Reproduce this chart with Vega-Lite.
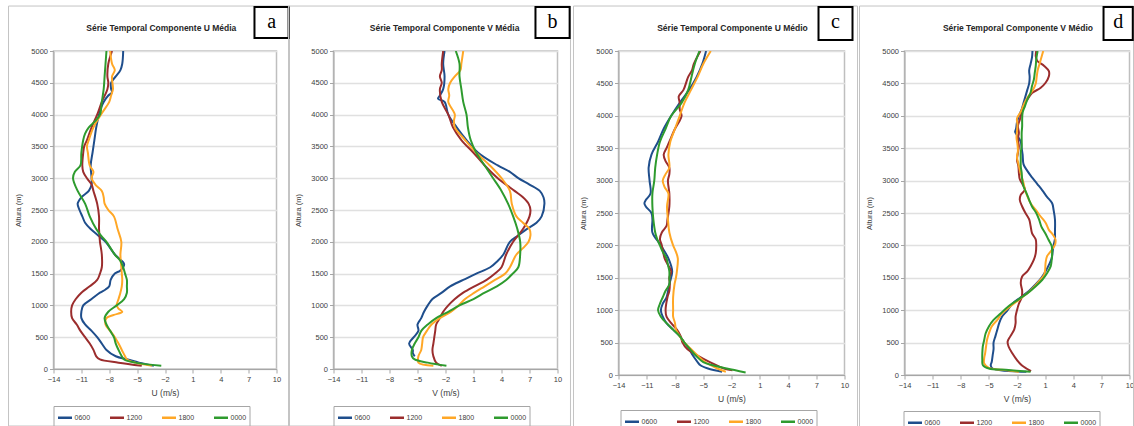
{
"$schema": "https://vega.github.io/schema/vega-lite/v6.json",
"background": "white",
"padding": {"left": 6.5, "top": 4, "right": 0, "bottom": 0},
"spacing": -5,
"config": {
  "font": "Liberation Sans",
  "view": {"stroke": "#bfbfbf", "strokeWidth": 1.5},
  "axis": {"labelFont": "Liberation Sans", "labelFontSize": 7.5, "labelColor": "#404040", "titleFont": "Liberation Sans", "titleFontSize": 8, "titleFontWeight": "normal", "titleColor": "#404040", "domainColor": "#a6a6a6", "tickColor": "#a6a6a6", "tickSize": 4, "labelPadding": 2},
  "legend": {"orient": "none", "direction": "horizontal", "title": null, "symbolType": "stroke", "symbolSize": 196, "symbolStrokeWidth": 2.5, "labelFont": "Liberation Sans", "labelFontSize": 7, "labelColor": "#404040", "labelOffset": 1, "columnPadding": 14, "padding": 3, "strokeColor": "#a6a6a6"}
},
"resolve": {"scale": {"color": "independent"}, "legend": {"color": "independent"}},
"hconcat": [
{
 "width": 223, "height": 318,
 "layer": [
  {"data": {"values": [{}]}, "mark": {"type": "rect", "filled": false, "stroke": "#c4c4c4", "strokeWidth": 1, "clip": false},
   "encoding": {"x": {"datum": -18.84, "type": "quantitative"}, "x2": {"datum": 11.4}, "y": {"datum": 5707, "type": "quantitative"}, "y2": {"datum": -896}}},
  {"data": {"values": [
{"s":"0600","h":50,"v":-3.2},{"s":"0600","h":100,"v":-4.8},{"s":"0600","h":150,"v":-6.0},{"s":"0600","h":200,"v":-7.3},{"s":"0600","h":300,"v":-8.3},{"s":"0600","h":400,"v":-8.8},{"s":"0600","h":500,"v":-9.3},{"s":"0600","h":600,"v":-9.9},{"s":"0600","h":700,"v":-10.6},{"s":"0600","h":800,"v":-11.0},{"s":"0600","h":900,"v":-11.0},{"s":"0600","h":1000,"v":-10.8},{"s":"0600","h":1100,"v":-9.9},{"s":"0600","h":1200,"v":-9.0},{"s":"0600","h":1250,"v":-8.4},{"s":"0600","h":1300,"v":-8.0},{"s":"0600","h":1400,"v":-7.85},{"s":"0600","h":1500,"v":-7.4},{"s":"0600","h":1550,"v":-6.8},{"s":"0600","h":1650,"v":-6.4},{"s":"0600","h":1800,"v":-7.4},{"s":"0600","h":2000,"v":-8.4},{"s":"0600","h":2100,"v":-9.2},{"s":"0600","h":2200,"v":-10.0},{"s":"0600","h":2300,"v":-10.6},{"s":"0600","h":2400,"v":-10.9},{"s":"0600","h":2500,"v":-11.2},{"s":"0600","h":2600,"v":-11.4},{"s":"0600","h":2700,"v":-11.0},{"s":"0600","h":2800,"v":-10.2},{"s":"0600","h":2900,"v":-9.9},{"s":"0600","h":3000,"v":-9.9},{"s":"0600","h":3200,"v":-10.0},{"s":"0600","h":3400,"v":-9.8},{"s":"0600","h":3600,"v":-9.6},{"s":"0600","h":3800,"v":-9.4},{"s":"0600","h":4000,"v":-9.1},{"s":"0600","h":4100,"v":-8.9},{"s":"0600","h":4200,"v":-8.6},{"s":"0600","h":4300,"v":-8.1},{"s":"0600","h":4350,"v":-7.7},{"s":"0600","h":4400,"v":-7.8},{"s":"0600","h":4500,"v":-7.8},{"s":"0600","h":4600,"v":-7.3},{"s":"0600","h":4700,"v":-6.8},{"s":"0600","h":4800,"v":-6.6},{"s":"0600","h":5000,"v":-6.5},
{"s":"1200","h":50,"v":-4.5},{"s":"1200","h":100,"v":-7.0},{"s":"1200","h":150,"v":-9.0},{"s":"1200","h":200,"v":-9.4},{"s":"1200","h":300,"v":-9.7},{"s":"1200","h":400,"v":-10.1},{"s":"1200","h":500,"v":-10.6},{"s":"1200","h":600,"v":-11.1},{"s":"1200","h":700,"v":-11.5},{"s":"1200","h":800,"v":-12.0},{"s":"1200","h":900,"v":-12.1},{"s":"1200","h":1000,"v":-12.0},{"s":"1200","h":1100,"v":-11.6},{"s":"1200","h":1200,"v":-11.0},{"s":"1200","h":1300,"v":-10.1},{"s":"1200","h":1400,"v":-9.3},{"s":"1200","h":1500,"v":-9.0},{"s":"1200","h":1600,"v":-8.8},{"s":"1200","h":1800,"v":-8.8},{"s":"1200","h":2000,"v":-9.0},{"s":"1200","h":2200,"v":-9.1},{"s":"1200","h":2400,"v":-9.1},{"s":"1200","h":2600,"v":-9.3},{"s":"1200","h":2800,"v":-9.7},{"s":"1200","h":2900,"v":-9.9},{"s":"1200","h":3000,"v":-10.4},{"s":"1200","h":3100,"v":-10.8},{"s":"1200","h":3200,"v":-10.9},{"s":"1200","h":3400,"v":-10.8},{"s":"1200","h":3500,"v":-10.7},{"s":"1200","h":3600,"v":-10.4},{"s":"1200","h":3800,"v":-9.9},{"s":"1200","h":4000,"v":-9.3},{"s":"1200","h":4200,"v":-8.8},{"s":"1200","h":4400,"v":-8.2},{"s":"1200","h":4500,"v":-8.1},{"s":"1200","h":4600,"v":-8.2},{"s":"1200","h":4800,"v":-8.1},{"s":"1200","h":5000,"v":-7.7},
{"s":"1800","h":50,"v":-3.4},{"s":"1800","h":100,"v":-5.2},{"s":"1800","h":150,"v":-6.1},{"s":"1800","h":200,"v":-6.3},{"s":"1800","h":300,"v":-6.65},{"s":"1800","h":400,"v":-7.0},{"s":"1800","h":500,"v":-7.4},{"s":"1800","h":600,"v":-7.9},{"s":"1800","h":700,"v":-8.4},{"s":"1800","h":800,"v":-8.3},{"s":"1800","h":850,"v":-7.5},{"s":"1800","h":900,"v":-6.6},{"s":"1800","h":950,"v":-7.0},{"s":"1800","h":1000,"v":-7.2},{"s":"1800","h":1100,"v":-7.0},{"s":"1800","h":1200,"v":-6.8},{"s":"1800","h":1300,"v":-6.65},{"s":"1800","h":1400,"v":-6.6},{"s":"1800","h":1500,"v":-6.65},{"s":"1800","h":1600,"v":-6.7},{"s":"1800","h":1800,"v":-6.8},{"s":"1800","h":2000,"v":-6.7},{"s":"1800","h":2200,"v":-7.1},{"s":"1800","h":2400,"v":-7.5},{"s":"1800","h":2500,"v":-8.1},{"s":"1800","h":2600,"v":-8.5},{"s":"1800","h":2700,"v":-8.6},{"s":"1800","h":2800,"v":-8.8},{"s":"1800","h":2900,"v":-9.5},{"s":"1800","h":3000,"v":-9.9},{"s":"1800","h":3100,"v":-9.7},{"s":"1800","h":3200,"v":-10.1},{"s":"1800","h":3400,"v":-10.3},{"s":"1800","h":3500,"v":-10.4},{"s":"1800","h":3600,"v":-10.2},{"s":"1800","h":3800,"v":-9.7},{"s":"1800","h":4000,"v":-8.9},{"s":"1800","h":4200,"v":-8.0},{"s":"1800","h":4300,"v":-7.8},{"s":"1800","h":4400,"v":-7.6},{"s":"1800","h":4600,"v":-7.7},{"s":"1800","h":4700,"v":-7.4},{"s":"1800","h":4800,"v":-7.7},{"s":"1800","h":5000,"v":-7.9},
{"s":"0000","h":50,"v":-2.4},{"s":"0000","h":100,"v":-5.2},{"s":"0000","h":150,"v":-6.4},{"s":"0000","h":200,"v":-6.65},{"s":"0000","h":300,"v":-7.0},{"s":"0000","h":400,"v":-7.3},{"s":"0000","h":500,"v":-7.5},{"s":"0000","h":600,"v":-7.9},{"s":"0000","h":700,"v":-8.3},{"s":"0000","h":800,"v":-8.5},{"s":"0000","h":900,"v":-8.1},{"s":"0000","h":1000,"v":-7.2},{"s":"0000","h":1100,"v":-6.4},{"s":"0000","h":1200,"v":-6.1},{"s":"0000","h":1300,"v":-6.1},{"s":"0000","h":1400,"v":-6.1},{"s":"0000","h":1500,"v":-6.3},{"s":"0000","h":1600,"v":-6.5},{"s":"0000","h":1700,"v":-6.8},{"s":"0000","h":1800,"v":-7.4},{"s":"0000","h":2000,"v":-8.3},{"s":"0000","h":2100,"v":-8.9},{"s":"0000","h":2200,"v":-9.4},{"s":"0000","h":2400,"v":-10.1},{"s":"0000","h":2600,"v":-10.6},{"s":"0000","h":2800,"v":-11.4},{"s":"0000","h":3000,"v":-11.9},{"s":"0000","h":3100,"v":-11.7},{"s":"0000","h":3200,"v":-11.1},{"s":"0000","h":3400,"v":-11.0},{"s":"0000","h":3600,"v":-10.8},{"s":"0000","h":3700,"v":-10.6},{"s":"0000","h":3800,"v":-10.2},{"s":"0000","h":3900,"v":-9.5},{"s":"0000","h":4000,"v":-9.0},{"s":"0000","h":4200,"v":-8.8},{"s":"0000","h":4400,"v":-8.6},{"s":"0000","h":4600,"v":-8.5},{"s":"0000","h":4800,"v":-8.4},{"s":"0000","h":5000,"v":-8.3}
  ]},
   "mark": {"type": "line", "strokeWidth": 2, "interpolate": "catmull-rom", "clip": true},
   "encoding": {
    "x": {"field": "v", "type": "quantitative", "scale": {"domain": [-14, 10], "nice": false, "zero": false}, "axis": {"values": [-14,-11,-8,-5,-2,1,4,7,10], "tickCount": 30, "labelOverlap": false, "labelFlush": false, "title": "U (m/s)", "grid": false, "titlePadding": 6, "titleFontSize": 8.5}},
    "y": {"field": "h", "type": "quantitative", "scale": {"domain": [0, 5000], "nice": false, "zero": false}, "axis": {"values": [0,500,1000,1500,2000,2500,3000,3500,4000,4500,5000], "tickCount": 30, "labelOverlap": false, "format": "d", "title": "Altura (m)", "grid": true, "gridColor": "#e0e0e0", "gridWidth": 1.5, "titlePadding": 8, "titleFontSize": 7.5}},
    "color": {"field": "s", "type": "nominal", "scale": {"domain": ["0600","1200","1800","0000"], "range": ["#1F4E8C","#9B2D2D","#FFA726","#2E9B2E"]}, "legend": {"legendX": 0, "legendY": 355}},
    "order": {"field": "h", "type": "quantitative"}
   }},
  {"data": {"values": [{}]}, "mark": {"type": "text", "text": "Série Temporal Componente U Média", "font": "Liberation Sans", "fontSize": 8.5, "fontWeight": "bold", "color": "#262626", "align": "center", "baseline": "middle", "clip": false},
   "encoding": {"x": {"datum": -2.4, "type": "quantitative"}, "y": {"datum": 5362, "type": "quantitative"}}},
  {"data": {"values": [{}]}, "mark": {"type": "rect", "fill": "white", "stroke": "black", "strokeWidth": 2, "opacity": 1, "clip": false},
   "encoding": {"x": {"datum": 7.63, "type": "quantitative"}, "x2": {"datum": 11.3}, "y": {"datum": 5690, "type": "quantitative"}, "y2": {"datum": 5204}}},
  {"data": {"values": [{}]}, "mark": {"type": "text", "text": "a", "font": "Liberation Serif", "fontSize": 20, "color": "black", "align": "center", "baseline": "middle", "dy": -1, "clip": false},
   "encoding": {"x": {"datum": 9.47, "type": "quantitative"}, "y": {"datum": 5447, "type": "quantitative"}}}
 ]
},
{
 "spacing": -1,
 "resolve": {"scale": {"color": "independent"}, "legend": {"color": "independent"}},
 "hconcat": [
{
 "width": 224, "height": 318,
 "layer": [
  {"data": {"values": [{}]}, "mark": {"type": "rect", "filled": false, "stroke": "#c4c4c4", "strokeWidth": 1, "clip": false},
   "encoding": {"x": {"datum": -18.82, "type": "quantitative"}, "x2": {"datum": 11.39}, "y": {"datum": 5707, "type": "quantitative"}, "y2": {"datum": -896}}},
  {"data": {"values": [
{"s":"0600","h":200,"v":-5.3},{"s":"0600","h":250,"v":-5.5},{"s":"0600","h":300,"v":-5.5},{"s":"0600","h":400,"v":-5.9},{"s":"0600","h":500,"v":-5.4},{"s":"0600","h":600,"v":-4.9},{"s":"0600","h":700,"v":-5.0},{"s":"0600","h":800,"v":-4.6},{"s":"0600","h":900,"v":-4.3},{"s":"0600","h":1000,"v":-3.9},{"s":"0600","h":1100,"v":-3.4},{"s":"0600","h":1200,"v":-2.4},{"s":"0600","h":1300,"v":-1.5},{"s":"0600","h":1400,"v":-0.1},{"s":"0600","h":1500,"v":1.3},{"s":"0600","h":1600,"v":2.8},{"s":"0600","h":1700,"v":3.6},{"s":"0600","h":1800,"v":4.2},{"s":"0600","h":2000,"v":4.9},{"s":"0600","h":2100,"v":5.8},{"s":"0600","h":2200,"v":6.7},{"s":"0600","h":2300,"v":7.75},{"s":"0600","h":2400,"v":8.3},{"s":"0600","h":2600,"v":8.6},{"s":"0600","h":2700,"v":8.5},{"s":"0600","h":2800,"v":8.1},{"s":"0600","h":2900,"v":7.0},{"s":"0600","h":3000,"v":5.8},{"s":"0600","h":3100,"v":4.9},{"s":"0600","h":3200,"v":3.6},{"s":"0600","h":3400,"v":1.5},{"s":"0600","h":3600,"v":0.25},{"s":"0600","h":3800,"v":-0.8},{"s":"0600","h":4000,"v":-1.7},{"s":"0600","h":4200,"v":-2.1},{"s":"0600","h":4250,"v":-2.8},{"s":"0600","h":4300,"v":-2.6},{"s":"0600","h":4400,"v":-2.25},{"s":"0600","h":4600,"v":-2.1},{"s":"0600","h":4800,"v":-2.25},{"s":"0600","h":5000,"v":-2.1},
{"s":"1200","h":50,"v":-2.4},{"s":"1200","h":100,"v":-3.0},{"s":"1200","h":200,"v":-3.3},{"s":"1200","h":300,"v":-3.4},{"s":"1200","h":400,"v":-3.3},{"s":"1200","h":500,"v":-3.2},{"s":"1200","h":600,"v":-3.1},{"s":"1200","h":700,"v":-3.0},{"s":"1200","h":800,"v":-2.6},{"s":"1200","h":900,"v":-2.25},{"s":"1200","h":1000,"v":-1.7},{"s":"1200","h":1100,"v":-1.0},{"s":"1200","h":1200,"v":-0.1},{"s":"1200","h":1300,"v":1.1},{"s":"1200","h":1400,"v":2.4},{"s":"1200","h":1500,"v":3.3},{"s":"1200","h":1600,"v":4.0},{"s":"1200","h":1800,"v":4.5},{"s":"1200","h":2000,"v":5.25},{"s":"1200","h":2200,"v":6.3},{"s":"1200","h":2400,"v":7.0},{"s":"1200","h":2500,"v":7.1},{"s":"1200","h":2600,"v":6.9},{"s":"1200","h":2700,"v":6.3},{"s":"1200","h":2800,"v":5.4},{"s":"1200","h":3000,"v":3.6},{"s":"1200","h":3200,"v":2.2},{"s":"1200","h":3400,"v":1.0},{"s":"1200","h":3600,"v":-0.3},{"s":"1200","h":3800,"v":-1.2},{"s":"1200","h":4000,"v":-1.7},{"s":"1200","h":4200,"v":-2.4},{"s":"1200","h":4400,"v":-2.6},{"s":"1200","h":4500,"v":-2.4},{"s":"1200","h":4600,"v":-2.6},{"s":"1200","h":4700,"v":-2.4},{"s":"1200","h":4800,"v":-2.4},{"s":"1200","h":5000,"v":-2.25},
{"s":"1800","h":50,"v":-3.3},{"s":"1800","h":100,"v":-4.9},{"s":"1800","h":200,"v":-4.9},{"s":"1800","h":300,"v":-4.6},{"s":"1800","h":400,"v":-4.5},{"s":"1800","h":500,"v":-4.4},{"s":"1800","h":600,"v":-4.0},{"s":"1800","h":700,"v":-3.5},{"s":"1800","h":800,"v":-2.6},{"s":"1800","h":900,"v":-1.4},{"s":"1800","h":1000,"v":-0.6},{"s":"1800","h":1100,"v":0.1},{"s":"1800","h":1200,"v":1.1},{"s":"1800","h":1300,"v":2.2},{"s":"1800","h":1400,"v":3.3},{"s":"1800","h":1500,"v":4.4},{"s":"1800","h":1600,"v":4.9},{"s":"1800","h":1800,"v":5.6},{"s":"1800","h":1900,"v":6.3},{"s":"1800","h":2000,"v":6.9},{"s":"1800","h":2100,"v":7.1},{"s":"1800","h":2200,"v":7.0},{"s":"1800","h":2300,"v":6.3},{"s":"1800","h":2400,"v":5.6},{"s":"1800","h":2600,"v":5.1},{"s":"1800","h":2800,"v":4.9},{"s":"1800","h":3000,"v":4.0},{"s":"1800","h":3200,"v":2.75},{"s":"1800","h":3400,"v":1.3},{"s":"1800","h":3600,"v":0.1},{"s":"1800","h":3800,"v":-1.0},{"s":"1800","h":3900,"v":-1.1},{"s":"1800","h":4000,"v":-1.0},{"s":"1800","h":4200,"v":-1.7},{"s":"1800","h":4300,"v":-1.6},{"s":"1800","h":4400,"v":-1.7},{"s":"1800","h":4500,"v":-1.5},{"s":"1800","h":4600,"v":-1.0},{"s":"1800","h":4700,"v":-0.4},{"s":"1800","h":4800,"v":-0.3},{"s":"1800","h":5000,"v":-0.1},
{"s":"0000","h":50,"v":-1.9},{"s":"0000","h":100,"v":-3.9},{"s":"0000","h":150,"v":-5.3},{"s":"0000","h":200,"v":-5.6},{"s":"0000","h":300,"v":-5.6},{"s":"0000","h":400,"v":-5.3},{"s":"0000","h":500,"v":-4.9},{"s":"0000","h":600,"v":-4.6},{"s":"0000","h":700,"v":-3.9},{"s":"0000","h":800,"v":-3.0},{"s":"0000","h":900,"v":-1.7},{"s":"0000","h":1000,"v":-0.5},{"s":"0000","h":1100,"v":1.0},{"s":"0000","h":1200,"v":2.2},{"s":"0000","h":1300,"v":3.5},{"s":"0000","h":1400,"v":4.5},{"s":"0000","h":1500,"v":5.2},{"s":"0000","h":1600,"v":5.8},{"s":"0000","h":1800,"v":6.0},{"s":"0000","h":2000,"v":6.0},{"s":"0000","h":2200,"v":5.7},{"s":"0000","h":2400,"v":5.25},{"s":"0000","h":2600,"v":4.7},{"s":"0000","h":2800,"v":4.0},{"s":"0000","h":3000,"v":3.1},{"s":"0000","h":3200,"v":2.2},{"s":"0000","h":3400,"v":1.3},{"s":"0000","h":3600,"v":0.7},{"s":"0000","h":3800,"v":0.4},{"s":"0000","h":4000,"v":0.25},{"s":"0000","h":4200,"v":-0.1},{"s":"0000","h":4400,"v":-0.3},{"s":"0000","h":4600,"v":-0.5},{"s":"0000","h":4800,"v":-0.5},{"s":"0000","h":5000,"v":-0.9}
  ]},
   "mark": {"type": "line", "strokeWidth": 2, "interpolate": "catmull-rom", "clip": true},
   "encoding": {
    "x": {"field": "v", "type": "quantitative", "scale": {"domain": [-14, 10], "nice": false, "zero": false}, "axis": {"values": [-14,-11,-8,-5,-2,1,4,7,10], "tickCount": 30, "labelOverlap": false, "labelFlush": false, "title": "V (m/s)", "grid": false, "titlePadding": 6, "titleFontSize": 8.5}},
    "y": {"field": "h", "type": "quantitative", "scale": {"domain": [0, 5000], "nice": false, "zero": false}, "axis": {"values": [0,500,1000,1500,2000,2500,3000,3500,4000,4500,5000], "tickCount": 30, "labelOverlap": false, "format": "d", "title": "Altura (m)", "grid": true, "gridColor": "#e0e0e0", "gridWidth": 1.5, "titlePadding": 8, "titleFontSize": 7.5}},
    "color": {"field": "s", "type": "nominal", "scale": {"domain": ["0600","1200","1800","0000"], "range": ["#1F4E8C","#9B2D2D","#FFA726","#2E9B2E"]}, "legend": {"legendX": 0, "legendY": 355}},
    "order": {"field": "h", "type": "quantitative"}
   }},
  {"data": {"values": [{}]}, "mark": {"type": "text", "text": "Série Temporal Componente V Média", "font": "Liberation Sans", "fontSize": 8.5, "fontWeight": "bold", "color": "#262626", "align": "center", "baseline": "middle", "clip": false},
   "encoding": {"x": {"datum": -2.1, "type": "quantitative"}, "y": {"datum": 5362, "type": "quantitative"}}},
  {"data": {"values": [{}]}, "mark": {"type": "rect", "fill": "white", "stroke": "black", "strokeWidth": 2, "opacity": 1, "clip": false},
   "encoding": {"x": {"datum": 7.64, "type": "quantitative"}, "x2": {"datum": 11.3}, "y": {"datum": 5690, "type": "quantitative"}, "y2": {"datum": 5204}}},
  {"data": {"values": [{}]}, "mark": {"type": "text", "text": "b", "font": "Liberation Serif", "fontSize": 20, "color": "black", "align": "center", "baseline": "middle", "dy": -1, "clip": false},
   "encoding": {"x": {"datum": 9.47, "type": "quantitative"}, "y": {"datum": 5447, "type": "quantitative"}}}
 ]
},
{
 "spacing": -2,
 "resolve": {"scale": {"color": "independent"}, "legend": {"color": "independent"}},
 "hconcat": [
{
 "width": 226, "height": 324,
 "layer": [
  {"data": {"values": [{}]}, "mark": {"type": "rect", "filled": false, "stroke": "#c4c4c4", "strokeWidth": 1, "clip": false},
   "encoding": {"x": {"datum": -18.78, "type": "quantitative"}, "x2": {"datum": 11.38}, "y": {"datum": 5694, "type": "quantitative"}, "y2": {"datum": -802}}},
  {"data": {"values": [
{"s":"0600","h":50,"v":-3.0},{"s":"0600","h":100,"v":-4.5},{"s":"0600","h":150,"v":-5.3},{"s":"0600","h":200,"v":-5.6},{"s":"0600","h":300,"v":-6.1},{"s":"0600","h":400,"v":-6.5},{"s":"0600","h":500,"v":-7.0},{"s":"0600","h":600,"v":-7.5},{"s":"0600","h":700,"v":-8.2},{"s":"0600","h":800,"v":-8.9},{"s":"0600","h":900,"v":-9.3},{"s":"0600","h":1000,"v":-9.5},{"s":"0600","h":1100,"v":-9.3},{"s":"0600","h":1200,"v":-8.9},{"s":"0600","h":1400,"v":-8.6},{"s":"0600","h":1600,"v":-8.3},{"s":"0600","h":1800,"v":-8.7},{"s":"0600","h":2000,"v":-9.5},{"s":"0600","h":2200,"v":-10.4},{"s":"0600","h":2400,"v":-10.4},{"s":"0600","h":2500,"v":-10.5},{"s":"0600","h":2600,"v":-11.1},{"s":"0600","h":2650,"v":-11.25},{"s":"0600","h":2700,"v":-11.1},{"s":"0600","h":2800,"v":-10.6},{"s":"0600","h":3000,"v":-10.7},{"s":"0600","h":3200,"v":-10.8},{"s":"0600","h":3400,"v":-10.5},{"s":"0600","h":3600,"v":-9.8},{"s":"0600","h":3800,"v":-9.2},{"s":"0600","h":4000,"v":-8.4},{"s":"0600","h":4200,"v":-7.5},{"s":"0600","h":4400,"v":-6.5},{"s":"0600","h":4600,"v":-5.7},{"s":"0600","h":4800,"v":-5.1},{"s":"0600","h":5000,"v":-4.7},
{"s":"1200","h":75,"v":-1.9},{"s":"1200","h":100,"v":-2.8},{"s":"1200","h":200,"v":-4.3},{"s":"1200","h":300,"v":-5.6},{"s":"1200","h":400,"v":-6.7},{"s":"1200","h":500,"v":-7.2},{"s":"1200","h":600,"v":-7.4},{"s":"1200","h":700,"v":-7.8},{"s":"1200","h":800,"v":-8.4},{"s":"1200","h":900,"v":-8.9},{"s":"1200","h":1000,"v":-9.0},{"s":"1200","h":1200,"v":-8.8},{"s":"1200","h":1300,"v":-8.6},{"s":"1200","h":1400,"v":-8.55},{"s":"1200","h":1500,"v":-8.6},{"s":"1200","h":1600,"v":-8.4},{"s":"1200","h":1700,"v":-8.75},{"s":"1200","h":1800,"v":-9.1},{"s":"1200","h":2000,"v":-9.4},{"s":"1200","h":2100,"v":-9.6},{"s":"1200","h":2200,"v":-9.4},{"s":"1200","h":2300,"v":-8.9},{"s":"1200","h":2400,"v":-8.8},{"s":"1200","h":2600,"v":-8.6},{"s":"1200","h":2800,"v":-8.6},{"s":"1200","h":3000,"v":-8.75},{"s":"1200","h":3100,"v":-8.6},{"s":"1200","h":3200,"v":-8.6},{"s":"1200","h":3300,"v":-9.0},{"s":"1200","h":3400,"v":-9.2},{"s":"1200","h":3500,"v":-8.9},{"s":"1200","h":3600,"v":-8.6},{"s":"1200","h":3800,"v":-8.0},{"s":"1200","h":3900,"v":-7.6},{"s":"1200","h":4000,"v":-7.3},{"s":"1200","h":4100,"v":-7.5},{"s":"1200","h":4200,"v":-7.5},{"s":"1200","h":4300,"v":-7.6},{"s":"1200","h":4400,"v":-7.1},{"s":"1200","h":4600,"v":-6.6},{"s":"1200","h":4700,"v":-6.2},{"s":"1200","h":4800,"v":-6.0},{"s":"1200","h":5000,"v":-5.3},
{"s":"1800","h":50,"v":-2.6},{"s":"1800","h":100,"v":-3.5},{"s":"1800","h":200,"v":-4.8},{"s":"1800","h":300,"v":-5.6},{"s":"1800","h":400,"v":-6.3},{"s":"1800","h":500,"v":-7.0},{"s":"1800","h":600,"v":-7.5},{"s":"1800","h":700,"v":-7.9},{"s":"1800","h":800,"v":-8.0},{"s":"1800","h":900,"v":-8.2},{"s":"1800","h":1000,"v":-8.2},{"s":"1800","h":1200,"v":-8.2},{"s":"1800","h":1400,"v":-8.05},{"s":"1800","h":1500,"v":-7.9},{"s":"1800","h":1600,"v":-7.8},{"s":"1800","h":1800,"v":-7.7},{"s":"1800","h":1900,"v":-7.9},{"s":"1800","h":2000,"v":-8.2},{"s":"1800","h":2200,"v":-8.6},{"s":"1800","h":2400,"v":-8.75},{"s":"1800","h":2600,"v":-8.85},{"s":"1800","h":2800,"v":-8.7},{"s":"1800","h":2900,"v":-9.1},{"s":"1800","h":3000,"v":-9.3},{"s":"1800","h":3100,"v":-9.0},{"s":"1800","h":3200,"v":-8.6},{"s":"1800","h":3400,"v":-8.7},{"s":"1800","h":3600,"v":-8.5},{"s":"1800","h":3800,"v":-8.0},{"s":"1800","h":4000,"v":-7.5},{"s":"1800","h":4200,"v":-7.0},{"s":"1800","h":4400,"v":-6.3},{"s":"1800","h":4600,"v":-5.6},{"s":"1800","h":4800,"v":-5.0},{"s":"1800","h":5000,"v":-4.2},
{"s":"0000","h":40,"v":-0.5},{"s":"0000","h":100,"v":-2.5},{"s":"0000","h":150,"v":-4.0},{"s":"0000","h":200,"v":-5.0},{"s":"0000","h":300,"v":-5.8},{"s":"0000","h":400,"v":-6.4},{"s":"0000","h":500,"v":-7.0},{"s":"0000","h":600,"v":-7.5},{"s":"0000","h":700,"v":-8.2},{"s":"0000","h":800,"v":-8.9},{"s":"0000","h":900,"v":-9.5},{"s":"0000","h":1000,"v":-9.8},{"s":"0000","h":1100,"v":-9.6},{"s":"0000","h":1200,"v":-9.3},{"s":"0000","h":1300,"v":-9.0},{"s":"0000","h":1400,"v":-8.6},{"s":"0000","h":1500,"v":-8.6},{"s":"0000","h":1600,"v":-8.6},{"s":"0000","h":1700,"v":-8.75},{"s":"0000","h":1800,"v":-8.9},{"s":"0000","h":1900,"v":-9.3},{"s":"0000","h":2000,"v":-9.6},{"s":"0000","h":2100,"v":-9.9},{"s":"0000","h":2200,"v":-10.1},{"s":"0000","h":2400,"v":-10.3},{"s":"0000","h":2600,"v":-10.4},{"s":"0000","h":2800,"v":-10.4},{"s":"0000","h":3000,"v":-10.2},{"s":"0000","h":3200,"v":-10.1},{"s":"0000","h":3400,"v":-9.9},{"s":"0000","h":3600,"v":-9.6},{"s":"0000","h":3800,"v":-9.0},{"s":"0000","h":4000,"v":-8.4},{"s":"0000","h":4200,"v":-7.3},{"s":"0000","h":4400,"v":-6.6},{"s":"0000","h":4600,"v":-6.25},{"s":"0000","h":4800,"v":-5.9},{"s":"0000","h":5000,"v":-5.4}
  ]},
   "mark": {"type": "line", "strokeWidth": 2, "interpolate": "catmull-rom", "clip": true},
   "encoding": {
    "x": {"field": "v", "type": "quantitative", "scale": {"domain": [-14, 10], "nice": false, "zero": false}, "axis": {"values": [-14,-11,-8,-5,-2,1,4,7,10], "tickCount": 30, "labelOverlap": false, "labelFlush": false, "title": "U (m/s)", "grid": false, "titlePadding": 6, "titleFontSize": 8.5}},
    "y": {"field": "h", "type": "quantitative", "scale": {"domain": [0, 5000], "nice": false, "zero": false}, "axis": {"values": [0,500,1000,1500,2000,2500,3000,3500,4000,4500,5000], "tickCount": 30, "labelOverlap": false, "format": "d", "title": "Altura (m)", "grid": true, "gridColor": "#e0e0e0", "gridWidth": 1.5, "titlePadding": 8, "titleFontSize": 7.5}},
    "color": {"field": "s", "type": "nominal", "scale": {"domain": ["0600","1200","1800","0000"], "range": ["#1F4E8C","#9B2D2D","#FFA726","#2E9B2E"]}, "legend": {"legendX": 2, "legendY": 359}},
    "order": {"field": "h", "type": "quantitative"}
   }},
  {"data": {"values": [{}]}, "mark": {"type": "text", "text": "Série Temporal Componente U Médio", "font": "Liberation Sans", "fontSize": 8.5, "fontWeight": "bold", "color": "#262626", "align": "center", "baseline": "middle", "clip": false},
   "encoding": {"x": {"datum": -1.9, "type": "quantitative"}, "y": {"datum": 5355, "type": "quantitative"}}},
  {"data": {"values": [{}]}, "mark": {"type": "rect", "fill": "white", "stroke": "black", "strokeWidth": 2, "opacity": 1, "clip": false},
   "encoding": {"x": {"datum": 7.24, "type": "quantitative"}, "x2": {"datum": 10.85}, "y": {"datum": 5680, "type": "quantitative"}, "y2": {"datum": 5170}}},
  {"data": {"values": [{}]}, "mark": {"type": "text", "text": "c", "font": "Liberation Serif", "fontSize": 20, "color": "black", "align": "center", "baseline": "middle", "dy": -1, "clip": false},
   "encoding": {"x": {"datum": 9.05, "type": "quantitative"}, "y": {"datum": 5425, "type": "quantitative"}}}
 ]
},
{
 "width": 225, "height": 324,
 "layer": [
  {"data": {"values": [{}]}, "mark": {"type": "rect", "filled": false, "stroke": "#c4c4c4", "strokeWidth": 1, "clip": false},
   "encoding": {"x": {"datum": -18.8, "type": "quantitative"}, "x2": {"datum": 10.43}, "y": {"datum": 5694, "type": "quantitative"}, "y2": {"datum": -802}}},
  {"data": {"values": [
{"s":"0600","h":50,"v":-1.0},{"s":"0600","h":100,"v":-4.6},{"s":"0600","h":150,"v":-4.8},{"s":"0600","h":200,"v":-4.7},{"s":"0600","h":300,"v":-4.6},{"s":"0600","h":400,"v":-4.5},{"s":"0600","h":500,"v":-4.5},{"s":"0600","h":600,"v":-4.3},{"s":"0600","h":700,"v":-4.1},{"s":"0600","h":800,"v":-3.9},{"s":"0600","h":900,"v":-3.6},{"s":"0600","h":1000,"v":-3.0},{"s":"0600","h":1100,"v":-2.5},{"s":"0600","h":1200,"v":-1.6},{"s":"0600","h":1300,"v":-0.7},{"s":"0600","h":1400,"v":0.0},{"s":"0600","h":1500,"v":0.6},{"s":"0600","h":1600,"v":1.05},{"s":"0600","h":1700,"v":1.4},{"s":"0600","h":1800,"v":1.7},{"s":"0600","h":1900,"v":1.8},{"s":"0600","h":2000,"v":1.9},{"s":"0600","h":2100,"v":2.05},{"s":"0600","h":2200,"v":2.05},{"s":"0600","h":2400,"v":2.05},{"s":"0600","h":2550,"v":1.9},{"s":"0600","h":2650,"v":1.75},{"s":"0600","h":2750,"v":1.2},{"s":"0600","h":2850,"v":0.7},{"s":"0600","h":2950,"v":0.15},{"s":"0600","h":3050,"v":-0.4},{"s":"0600","h":3150,"v":-0.9},{"s":"0600","h":3250,"v":-1.3},{"s":"0600","h":3400,"v":-1.4},{"s":"0600","h":3500,"v":-1.5},{"s":"0600","h":3600,"v":-1.6},{"s":"0600","h":3700,"v":-2.0},{"s":"0600","h":3750,"v":-2.2},{"s":"0600","h":3800,"v":-2.1},{"s":"0600","h":3900,"v":-2.0},{"s":"0600","h":4000,"v":-1.8},{"s":"0600","h":4100,"v":-1.5},{"s":"0600","h":4200,"v":-1.3},{"s":"0600","h":4300,"v":-1.1},{"s":"0600","h":4400,"v":-0.9},{"s":"0600","h":4500,"v":-0.7},{"s":"0600","h":4600,"v":-0.65},{"s":"0600","h":4700,"v":-0.7},{"s":"0600","h":4800,"v":-0.55},{"s":"0600","h":4900,"v":-0.4},{"s":"0600","h":5000,"v":-0.35},
{"s":"1200","h":60,"v":-0.5},{"s":"1200","h":100,"v":-1.0},{"s":"1200","h":150,"v":-1.5},{"s":"1200","h":230,"v":-2.0},{"s":"1200","h":335,"v":-2.5},{"s":"1200","h":440,"v":-2.9},{"s":"1200","h":515,"v":-3.0},{"s":"1200","h":600,"v":-2.7},{"s":"1200","h":700,"v":-2.3},{"s":"1200","h":800,"v":-2.15},{"s":"1200","h":900,"v":-2.15},{"s":"1200","h":1000,"v":-2.0},{"s":"1200","h":1100,"v":-1.8},{"s":"1200","h":1200,"v":-1.5},{"s":"1200","h":1300,"v":-1.45},{"s":"1200","h":1420,"v":-1.6},{"s":"1200","h":1520,"v":-1.45},{"s":"1200","h":1600,"v":-0.9},{"s":"1200","h":1680,"v":-0.55},{"s":"1200","h":1780,"v":-0.2},{"s":"1200","h":1880,"v":0.0},{"s":"1200","h":1990,"v":0.05},{"s":"1200","h":2090,"v":0.0},{"s":"1200","h":2190,"v":-0.4},{"s":"1200","h":2300,"v":-0.55},{"s":"1200","h":2400,"v":-0.7},{"s":"1200","h":2500,"v":-1.1},{"s":"1200","h":2600,"v":-1.45},{"s":"1200","h":2700,"v":-1.7},{"s":"1200","h":2780,"v":-1.6},{"s":"1200","h":2860,"v":-1.15},{"s":"1200","h":2940,"v":-1.4},{"s":"1200","h":3020,"v":-1.7},{"s":"1200","h":3120,"v":-1.8},{"s":"1200","h":3220,"v":-1.85},{"s":"1200","h":3320,"v":-2.0},{"s":"1200","h":3430,"v":-1.9},{"s":"1200","h":3530,"v":-1.8},{"s":"1200","h":3640,"v":-1.9},{"s":"1200","h":3740,"v":-1.8},{"s":"1200","h":3840,"v":-1.9},{"s":"1200","h":3940,"v":-1.7},{"s":"1200","h":4050,"v":-1.5},{"s":"1200","h":4150,"v":-1.3},{"s":"1200","h":4250,"v":-0.9},{"s":"1200","h":4350,"v":-0.4},{"s":"1200","h":4430,"v":0.5},{"s":"1200","h":4510,"v":1.05},{"s":"1200","h":4610,"v":1.4},{"s":"1200","h":4690,"v":1.4},{"s":"1200","h":4770,"v":0.9},{"s":"1200","h":4850,"v":0.15},{"s":"1200","h":4920,"v":0.0},{"s":"1200","h":5000,"v":0.05},
{"s":"1800","h":50,"v":-1.8},{"s":"1800","h":80,"v":-3.6},{"s":"1800","h":110,"v":-5.0},{"s":"1800","h":180,"v":-5.5},{"s":"1800","h":260,"v":-5.5},{"s":"1800","h":335,"v":-5.4},{"s":"1800","h":440,"v":-5.3},{"s":"1800","h":540,"v":-5.2},{"s":"1800","h":640,"v":-5.0},{"s":"1800","h":750,"v":-4.7},{"s":"1800","h":850,"v":-4.1},{"s":"1800","h":950,"v":-3.6},{"s":"1800","h":1060,"v":-2.7},{"s":"1800","h":1160,"v":-1.8},{"s":"1800","h":1260,"v":-0.9},{"s":"1800","h":1370,"v":-0.1},{"s":"1800","h":1470,"v":0.5},{"s":"1800","h":1550,"v":0.9},{"s":"1800","h":1620,"v":1.0},{"s":"1800","h":1730,"v":1.05},{"s":"1800","h":1830,"v":1.2},{"s":"1800","h":1930,"v":1.7},{"s":"1800","h":2010,"v":2.05},{"s":"1800","h":2090,"v":2.1},{"s":"1800","h":2170,"v":1.8},{"s":"1800","h":2240,"v":1.4},{"s":"1800","h":2350,"v":1.05},{"s":"1800","h":2450,"v":0.5},{"s":"1800","h":2550,"v":0.0},{"s":"1800","h":2650,"v":-0.55},{"s":"1800","h":2760,"v":-0.9},{"s":"1800","h":2860,"v":-1.15},{"s":"1800","h":2960,"v":-1.3},{"s":"1800","h":3060,"v":-1.5},{"s":"1800","h":3160,"v":-1.7},{"s":"1800","h":3260,"v":-1.85},{"s":"1800","h":3360,"v":-2.0},{"s":"1800","h":3460,"v":-1.9},{"s":"1800","h":3560,"v":-1.95},{"s":"1800","h":3660,"v":-2.05},{"s":"1800","h":3760,"v":-2.0},{"s":"1800","h":3860,"v":-1.95},{"s":"1800","h":3960,"v":-2.0},{"s":"1800","h":4060,"v":-1.6},{"s":"1800","h":4200,"v":-1.2},{"s":"1800","h":4300,"v":-0.8},{"s":"1800","h":4400,"v":-0.3},{"s":"1800","h":4500,"v":0.0},{"s":"1800","h":4600,"v":0.1},{"s":"1800","h":4700,"v":0.2},{"s":"1800","h":4800,"v":0.4},{"s":"1800","h":4900,"v":0.6},{"s":"1800","h":5000,"v":0.8},
{"s":"0000","h":50,"v":-0.55},{"s":"0000","h":80,"v":-3.2},{"s":"0000","h":100,"v":-5.0},{"s":"0000","h":155,"v":-5.65},{"s":"0000","h":230,"v":-5.7},{"s":"0000","h":335,"v":-5.7},{"s":"0000","h":440,"v":-5.65},{"s":"0000","h":540,"v":-5.5},{"s":"0000","h":640,"v":-5.35},{"s":"0000","h":750,"v":-5.0},{"s":"0000","h":850,"v":-4.5},{"s":"0000","h":950,"v":-3.75},{"s":"0000","h":1060,"v":-2.9},{"s":"0000","h":1160,"v":-1.9},{"s":"0000","h":1260,"v":-0.9},{"s":"0000","h":1370,"v":0.0},{"s":"0000","h":1470,"v":0.7},{"s":"0000","h":1570,"v":1.2},{"s":"0000","h":1680,"v":1.6},{"s":"0000","h":1780,"v":1.7},{"s":"0000","h":1880,"v":1.75},{"s":"0000","h":1990,"v":1.7},{"s":"0000","h":2090,"v":1.35},{"s":"0000","h":2190,"v":1.0},{"s":"0000","h":2290,"v":0.6},{"s":"0000","h":2400,"v":0.35},{"s":"0000","h":2500,"v":0.05},{"s":"0000","h":2600,"v":-0.4},{"s":"0000","h":2700,"v":-0.7},{"s":"0000","h":2810,"v":-1.0},{"s":"0000","h":2910,"v":-1.3},{"s":"0000","h":3020,"v":-1.45},{"s":"0000","h":3120,"v":-1.5},{"s":"0000","h":3220,"v":-1.6},{"s":"0000","h":3330,"v":-1.6},{"s":"0000","h":3430,"v":-1.6},{"s":"0000","h":3530,"v":-1.5},{"s":"0000","h":3640,"v":-1.5},{"s":"0000","h":3740,"v":-1.5},{"s":"0000","h":3840,"v":-1.45},{"s":"0000","h":3940,"v":-1.45},{"s":"0000","h":4050,"v":-1.4},{"s":"0000","h":4150,"v":-1.15},{"s":"0000","h":4250,"v":-0.9},{"s":"0000","h":4360,"v":-0.55},{"s":"0000","h":4460,"v":-0.4},{"s":"0000","h":4560,"v":-0.2},{"s":"0000","h":4670,"v":-0.1},{"s":"0000","h":4770,"v":0.0},{"s":"0000","h":4870,"v":0.05},{"s":"0000","h":5000,"v":0.2}
  ]},
   "mark": {"type": "line", "strokeWidth": 2, "interpolate": "catmull-rom", "clip": true},
   "encoding": {
    "x": {"field": "v", "type": "quantitative", "scale": {"domain": [-14, 10], "nice": false, "zero": false}, "axis": {"values": [-14,-11,-8,-5,-2,1,4,7,10], "tickCount": 30, "labelOverlap": false, "labelFlush": false, "title": "V (m/s)", "grid": false, "titlePadding": 6, "titleFontSize": 8.5}},
    "y": {"field": "h", "type": "quantitative", "scale": {"domain": [0, 5000], "nice": false, "zero": false}, "axis": {"values": [0,500,1000,1500,2000,2500,3000,3500,4000,4500,5000], "tickCount": 30, "labelOverlap": false, "format": "d", "title": "Altura (m)", "grid": true, "gridColor": "#e0e0e0", "gridWidth": 1.5, "titlePadding": 8, "titleFontSize": 7.5}},
    "color": {"field": "s", "type": "nominal", "scale": {"domain": ["0600","1200","1800","0000"], "range": ["#1F4E8C","#9B2D2D","#FFA726","#2E9B2E"]}, "legend": {"legendX": -1, "legendY": 360}},
    "order": {"field": "h", "type": "quantitative"}
   }},
  {"data": {"values": [{}]}, "mark": {"type": "text", "text": "Série Temporal Componente V Médio", "font": "Liberation Sans", "fontSize": 8.5, "fontWeight": "bold", "color": "#262626", "align": "center", "baseline": "middle", "clip": false},
   "encoding": {"x": {"datum": -1.9, "type": "quantitative"}, "y": {"datum": 5355, "type": "quantitative"}}},
  {"data": {"values": [{}]}, "mark": {"type": "rect", "fill": "white", "stroke": "black", "strokeWidth": 2, "opacity": 1, "clip": false},
   "encoding": {"x": {"datum": 7.23, "type": "quantitative"}, "x2": {"datum": 10.35}, "y": {"datum": 5679, "type": "quantitative"}, "y2": {"datum": 5170}}},
  {"data": {"values": [{}]}, "mark": {"type": "text", "text": "d", "font": "Liberation Serif", "fontSize": 20, "color": "black", "align": "center", "baseline": "middle", "dy": -1, "clip": false},
   "encoding": {"x": {"datum": 8.79, "type": "quantitative"}, "y": {"datum": 5425, "type": "quantitative"}}}
 ]
}
 ]
}
 ]
}
]
}
